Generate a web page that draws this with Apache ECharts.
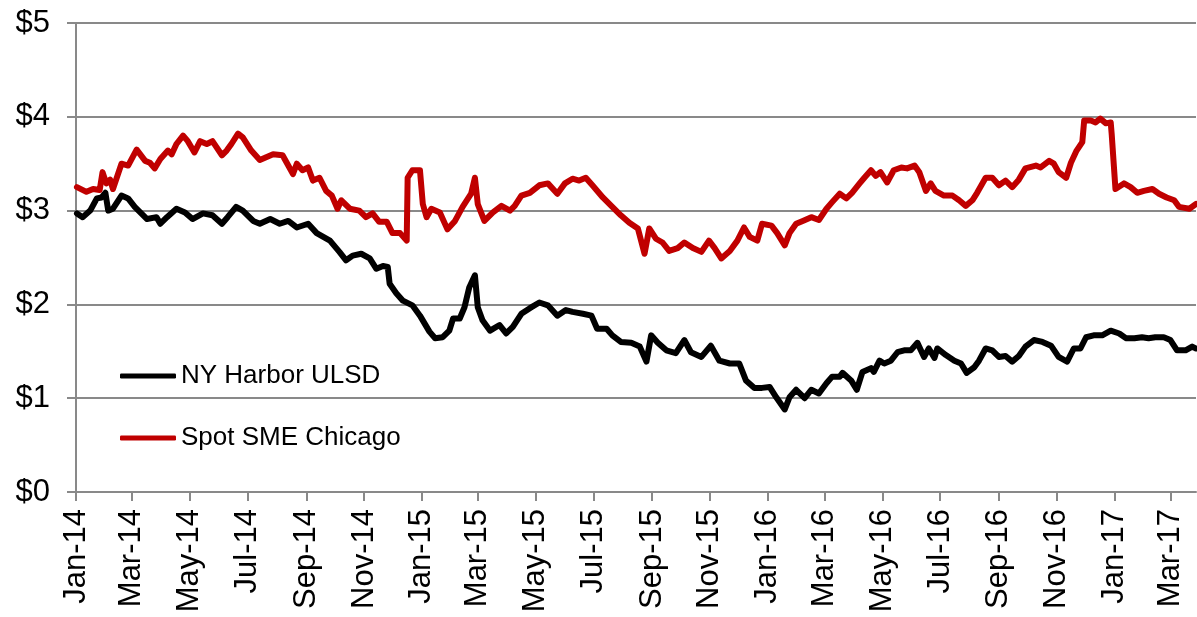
<!DOCTYPE html>
<html>
<head>
<meta charset="utf-8">
<title>NY Harbor ULSD vs Spot SME Chicago</title>
<script src="https://cdn.jsdelivr.net/npm/echarts@6/dist/echarts.min.js"></script>
<style>
    html, body { margin: 0; padding: 0; background: #fff; }
    #main { width: 1197px; height: 617px; }
</style>
</head>
<body>
<div id="main"></div>
<script>
// tick positions on the date axis (every second month)
var tickMonths = [
    '2014-01-01', '2014-03-01', '2014-05-01', '2014-07-01', '2014-09-01', '2014-11-01',
    '2015-01-01', '2015-03-01', '2015-05-01', '2015-07-01', '2015-09-01', '2015-11-01',
    '2016-01-01', '2016-03-01', '2016-05-01', '2016-07-01', '2016-09-01', '2016-11-01',
    '2017-01-01', '2017-03-01'
];
var monthNames = ['Jan', 'Feb', 'Mar', 'Apr', 'May', 'Jun', 'Jul', 'Aug', 'Sep', 'Oct', 'Nov', 'Dec'];
var yTicks = [0, 1, 2, 3, 4, 5];

// NY Harbor ULSD ($/gal)
var ulsdDates = [
    '2014-01-02', '2014-01-08', '2014-01-16', '2014-01-23', '2014-01-28', '2014-02-01', '2014-02-04', '2014-02-09', '2014-02-18', '2014-02-25',
    '2014-03-04', '2014-03-17', '2014-03-27', '2014-03-31', '2014-04-07', '2014-04-17', '2014-04-26', '2014-05-04', '2014-05-15', '2014-05-25',
    '2014-06-04', '2014-06-10', '2014-06-19', '2014-06-26', '2014-07-07', '2014-07-14', '2014-07-25', '2014-08-04', '2014-08-13', '2014-08-22',
    '2014-09-03', '2014-09-12', '2014-09-26', '2014-10-06', '2014-10-13', '2014-10-20', '2014-10-29', '2014-11-07', '2014-11-14', '2014-11-21',
    '2014-11-26', '2014-11-28', '2014-12-05', '2014-12-12', '2014-12-22', '2014-12-30', '2015-01-09', '2015-01-15', '2015-01-23', '2015-01-30',
    '2015-02-03', '2015-02-10', '2015-02-15', '2015-02-20', '2015-02-26', '2015-03-01', '2015-03-06', '2015-03-14', '2015-03-24', '2015-03-31',
    '2015-04-07', '2015-04-16', '2015-04-25', '2015-05-05', '2015-05-14', '2015-05-24', '2015-06-02', '2015-06-09', '2015-06-20', '2015-06-29',
    '2015-07-05', '2015-07-15', '2015-07-21', '2015-07-30', '2015-08-10', '2015-08-19', '2015-08-26', '2015-08-31', '2015-09-07', '2015-09-16',
    '2015-09-26', '2015-10-05', '2015-10-12', '2015-10-23', '2015-11-02', '2015-11-11', '2015-11-22', '2015-12-02', '2015-12-09', '2015-12-18',
    '2015-12-26', '2016-01-03', '2016-01-10', '2016-01-19', '2016-01-24', '2016-01-31', '2016-02-09', '2016-02-16', '2016-02-24', '2016-03-03',
    '2016-03-09', '2016-03-17', '2016-03-20', '2016-03-29', '2016-04-04', '2016-04-10', '2016-04-19', '2016-04-22', '2016-04-28', '2016-05-03',
    '2016-05-10', '2016-05-17', '2016-05-24', '2016-05-31', '2016-06-07', '2016-06-14', '2016-06-19', '2016-06-25', '2016-06-28', '2016-07-07',
    '2016-07-16', '2016-07-23', '2016-07-29', '2016-08-06', '2016-08-11', '2016-08-18', '2016-08-25', '2016-09-01', '2016-09-08', '2016-09-15',
    '2016-09-22', '2016-09-29', '2016-10-08', '2016-10-17', '2016-10-26', '2016-11-03', '2016-11-12', '2016-11-19', '2016-11-26', '2016-12-02',
    '2016-12-10', '2016-12-19', '2016-12-28', '2017-01-06', '2017-01-13', '2017-01-22', '2017-01-30', '2017-02-06', '2017-02-13', '2017-02-22',
    '2017-03-01', '2017-03-08', '2017-03-17', '2017-03-24', '2017-03-28'
];
var ulsdPrices = [
    2.97, 2.93, 3.00, 3.13, 3.14, 3.19, 3.00, 3.02, 3.16, 3.13,
    3.04, 2.91, 2.93, 2.86, 2.93, 3.02, 2.98, 2.91, 2.97, 2.95,
    2.86, 2.93, 3.04, 3.00, 2.89, 2.86, 2.91, 2.86, 2.89, 2.82,
    2.86, 2.76, 2.68, 2.56, 2.47, 2.52, 2.54, 2.49, 2.38, 2.41,
    2.40, 2.22, 2.12, 2.04, 1.99, 1.88, 1.71, 1.64, 1.65, 1.72,
    1.85, 1.85, 1.97, 2.18, 2.31, 1.97, 1.83, 1.72, 1.78, 1.69,
    1.76, 1.90, 1.96, 2.02, 1.99, 1.88, 1.94, 1.92, 1.90, 1.88,
    1.74, 1.74, 1.67, 1.60, 1.59, 1.55, 1.39, 1.67, 1.59, 1.51,
    1.48, 1.62, 1.49, 1.44, 1.56, 1.40, 1.37, 1.37, 1.19, 1.11,
    1.11, 1.12, 1.01, 0.88, 1.01, 1.09, 1.00, 1.09, 1.05, 1.16,
    1.23, 1.23, 1.27, 1.19, 1.09, 1.28, 1.32, 1.28, 1.40, 1.37,
    1.40, 1.49, 1.51, 1.51, 1.59, 1.44, 1.53, 1.43, 1.53, 1.46,
    1.40, 1.37, 1.27, 1.33, 1.40, 1.53, 1.51, 1.44, 1.45, 1.39,
    1.45, 1.55, 1.62, 1.60, 1.56, 1.44, 1.39, 1.53, 1.53, 1.65,
    1.67, 1.67, 1.72, 1.69, 1.64, 1.64, 1.65, 1.64, 1.65, 1.65,
    1.62, 1.51, 1.51, 1.55, 1.53
];

// Spot SME Chicago ($/gal)
var smeDates = [
    '2014-01-02', '2014-01-12', '2014-01-19', '2014-01-26', '2014-01-29', '2014-02-02', '2014-02-06', '2014-02-09', '2014-02-18', '2014-02-25',
    '2014-03-06', '2014-03-15', '2014-03-20', '2014-03-25', '2014-03-31', '2014-04-08', '2014-04-12', '2014-04-17', '2014-04-24', '2014-04-29',
    '2014-05-06', '2014-05-12', '2014-05-19', '2014-05-25', '2014-06-04', '2014-06-09', '2014-06-14', '2014-06-21', '2014-06-26', '2014-07-05',
    '2014-07-14', '2014-07-28', '2014-08-07', '2014-08-18', '2014-08-22', '2014-08-28', '2014-09-03', '2014-09-08', '2014-09-15', '2014-09-22',
    '2014-09-28', '2014-10-04', '2014-10-08', '2014-10-17', '2014-10-27', '2014-11-03', '2014-11-10', '2014-11-17', '2014-11-25', '2014-12-01',
    '2014-12-09', '2014-12-16', '2014-12-17', '2014-12-22', '2014-12-30', '2015-01-02', '2015-01-06', '2015-01-11', '2015-01-20', '2015-01-28',
    '2015-02-05', '2015-02-13', '2015-02-22', '2015-02-26', '2015-03-01', '2015-03-08', '2015-03-17', '2015-03-26', '2015-04-04', '2015-04-09',
    '2015-04-16', '2015-04-25', '2015-05-05', '2015-05-14', '2015-05-24', '2015-06-01', '2015-06-09', '2015-06-16', '2015-06-23', '2015-06-30',
    '2015-07-11', '2015-07-21', '2015-07-30', '2015-08-08', '2015-08-17', '2015-08-24', '2015-08-29', '2015-09-05', '2015-09-12', '2015-09-19',
    '2015-09-28', '2015-10-05', '2015-10-14', '2015-10-23', '2015-10-31', '2015-11-06', '2015-11-13', '2015-11-22', '2015-11-30', '2015-12-07',
    '2015-12-13', '2015-12-21', '2015-12-26', '2016-01-05', '2016-01-11', '2016-01-19', '2016-01-24', '2016-01-31', '2016-02-07', '2016-02-16',
    '2016-02-24', '2016-03-03', '2016-03-09', '2016-03-17', '2016-03-24', '2016-03-30', '2016-04-07', '2016-04-12', '2016-04-19', '2016-04-24',
    '2016-04-29', '2016-05-06', '2016-05-13', '2016-05-21', '2016-05-27', '2016-06-04', '2016-06-09', '2016-06-16', '2016-06-21', '2016-06-26',
    '2016-07-05', '2016-07-14', '2016-07-21', '2016-07-28', '2016-08-04', '2016-08-09', '2016-08-18', '2016-08-25', '2016-09-01', '2016-09-08',
    '2016-09-15', '2016-09-22', '2016-09-29', '2016-10-10', '2016-10-15', '2016-10-24', '2016-10-29', '2016-11-03', '2016-11-11', '2016-11-16',
    '2016-11-22', '2016-11-28', '2016-11-30', '2016-12-07', '2016-12-12', '2016-12-17', '2016-12-23', '2016-12-28', '2016-12-29', '2017-01-02',
    '2017-01-11', '2017-01-18', '2017-01-25', '2017-02-01', '2017-02-10', '2017-02-17', '2017-02-25', '2017-03-05', '2017-03-10', '2017-03-21',
    '2017-03-28'
];
var smePrices = [
    3.25, 3.20, 3.23, 3.22, 3.41, 3.29, 3.33, 3.23, 3.50, 3.48,
    3.65, 3.53, 3.51, 3.45, 3.55, 3.64, 3.60, 3.71, 3.80, 3.74,
    3.62, 3.74, 3.71, 3.74, 3.59, 3.64, 3.71, 3.82, 3.78, 3.64,
    3.54, 3.60, 3.59, 3.39, 3.50, 3.43, 3.46, 3.32, 3.35, 3.21,
    3.16, 3.02, 3.11, 3.02, 3.00, 2.93, 2.97, 2.88, 2.88, 2.76,
    2.76, 2.68, 3.35, 3.43, 3.43, 3.07, 2.93, 3.02, 2.98, 2.80,
    2.89, 3.04, 3.18, 3.35, 3.07, 2.89, 2.98, 3.05, 3.00, 3.05,
    3.16, 3.19, 3.27, 3.29, 3.18, 3.29, 3.34, 3.32, 3.35, 3.27,
    3.14, 3.04, 2.95, 2.87, 2.81, 2.54, 2.81, 2.70, 2.66, 2.57,
    2.60, 2.66, 2.60, 2.56, 2.68, 2.60, 2.49, 2.57, 2.68, 2.82,
    2.72, 2.68, 2.86, 2.84, 2.76, 2.63, 2.76, 2.86, 2.89, 2.93,
    2.90, 3.02, 3.09, 3.18, 3.13, 3.19, 3.29, 3.35, 3.43, 3.37,
    3.41, 3.30, 3.43, 3.46, 3.45, 3.48, 3.41, 3.21, 3.29, 3.21,
    3.16, 3.16, 3.11, 3.05, 3.11, 3.19, 3.35, 3.35, 3.27, 3.32,
    3.25, 3.33, 3.45, 3.48, 3.46, 3.53, 3.50, 3.41, 3.35, 3.51,
    3.64, 3.73, 3.96, 3.96, 3.94, 3.98, 3.93, 3.94, 3.82, 3.23,
    3.29, 3.25, 3.19, 3.21, 3.23, 3.18, 3.14, 3.11, 3.04, 3.02,
    3.07
];

function toTime(s) {
    return new Date(s + 'T00:00:00').getTime();
}

function pairs(dates, values) {
    return dates.map(function (d, i) {
        return [toTime(d), values[i]];
    });
}

var FONT = 'Liberation Sans, Arial, sans-serif';
var GRID_GRAY = '#898989';
var tickTimes = tickMonths.map(toTime);

var chart = echarts.init(document.getElementById('main'), null, {renderer: 'canvas'});

var legendBase = {
    left: 120,
    padding: 0,
    icon: 'roundRect',
    itemWidth: 56,
    itemHeight: 5,
    textStyle: {fontFamily: FONT, fontSize: 26, color: '#000'}
};

var option = {
    animation: false,
    backgroundColor: '#fff',
    grid: {
        left: 76,
        right: 1,
        top: 23,
        bottom: 125,
        containLabel: false
    },
    // 图例放在绘图区内, 两项各自定位
    legend: [
        Object.assign({data: ['NY Harbor ULSD'], top: 363}, legendBase),
        Object.assign({data: ['Spot SME Chicago'], top: 425}, legendBase)
    ],
    // 日期轴: 用数值轴承载时间戳, 刻度取隔月1日
    xAxis: {
        type: 'value',
        min: toTime('2014-01-01'),
        max: toTime('2017-03-28'),
        axisLine: {lineStyle: {color: GRID_GRAY, width: 2}},
        axisTick: {
            show: true,
            length: 9,
            customValues: tickTimes,
            lineStyle: {color: GRID_GRAY, width: 2}
        },
        axisLabel: {
            customValues: tickTimes,
            rotate: 90,
            margin: 17,
            fontFamily: FONT,
            fontSize: 31,
            color: '#000',
            formatter: function (v) {
                var d = new Date(v);
                return monthNames[d.getMonth()] + '-' + String(d.getFullYear()).slice(2);
            }
        },
        splitLine: {show: false}
    },
    yAxis: {
        type: 'value',
        min: yTicks[0],
        max: yTicks[yTicks.length - 1],
        interval: 1,
        axisLine: {show: true, lineStyle: {color: GRID_GRAY, width: 2}},
        axisTick: {show: true, length: 9, lineStyle: {color: GRID_GRAY, width: 2}},
        axisLabel: {
            margin: 26,
            fontFamily: FONT,
            fontSize: 31,
            color: '#000',
            formatter: '${value}'
        },
        splitLine: {lineStyle: {color: GRID_GRAY, width: 2}}
    },
    series: [{
        name: 'NY Harbor ULSD',
        type: 'line',
        data: pairs(ulsdDates, ulsdPrices),
        showSymbol: false,
        color: '#000000',
        lineStyle: {color: '#000000', width: 6, cap: 'round', join: 'round'}
    }, {
        name: 'Spot SME Chicago',
        type: 'line',
        data: pairs(smeDates, smePrices),
        showSymbol: false,
        color: '#c00000',
        lineStyle: {color: '#c00000', width: 6, cap: 'round', join: 'round'}
    }]
};

chart.setOption(option);
</script>
</body>
</html>
